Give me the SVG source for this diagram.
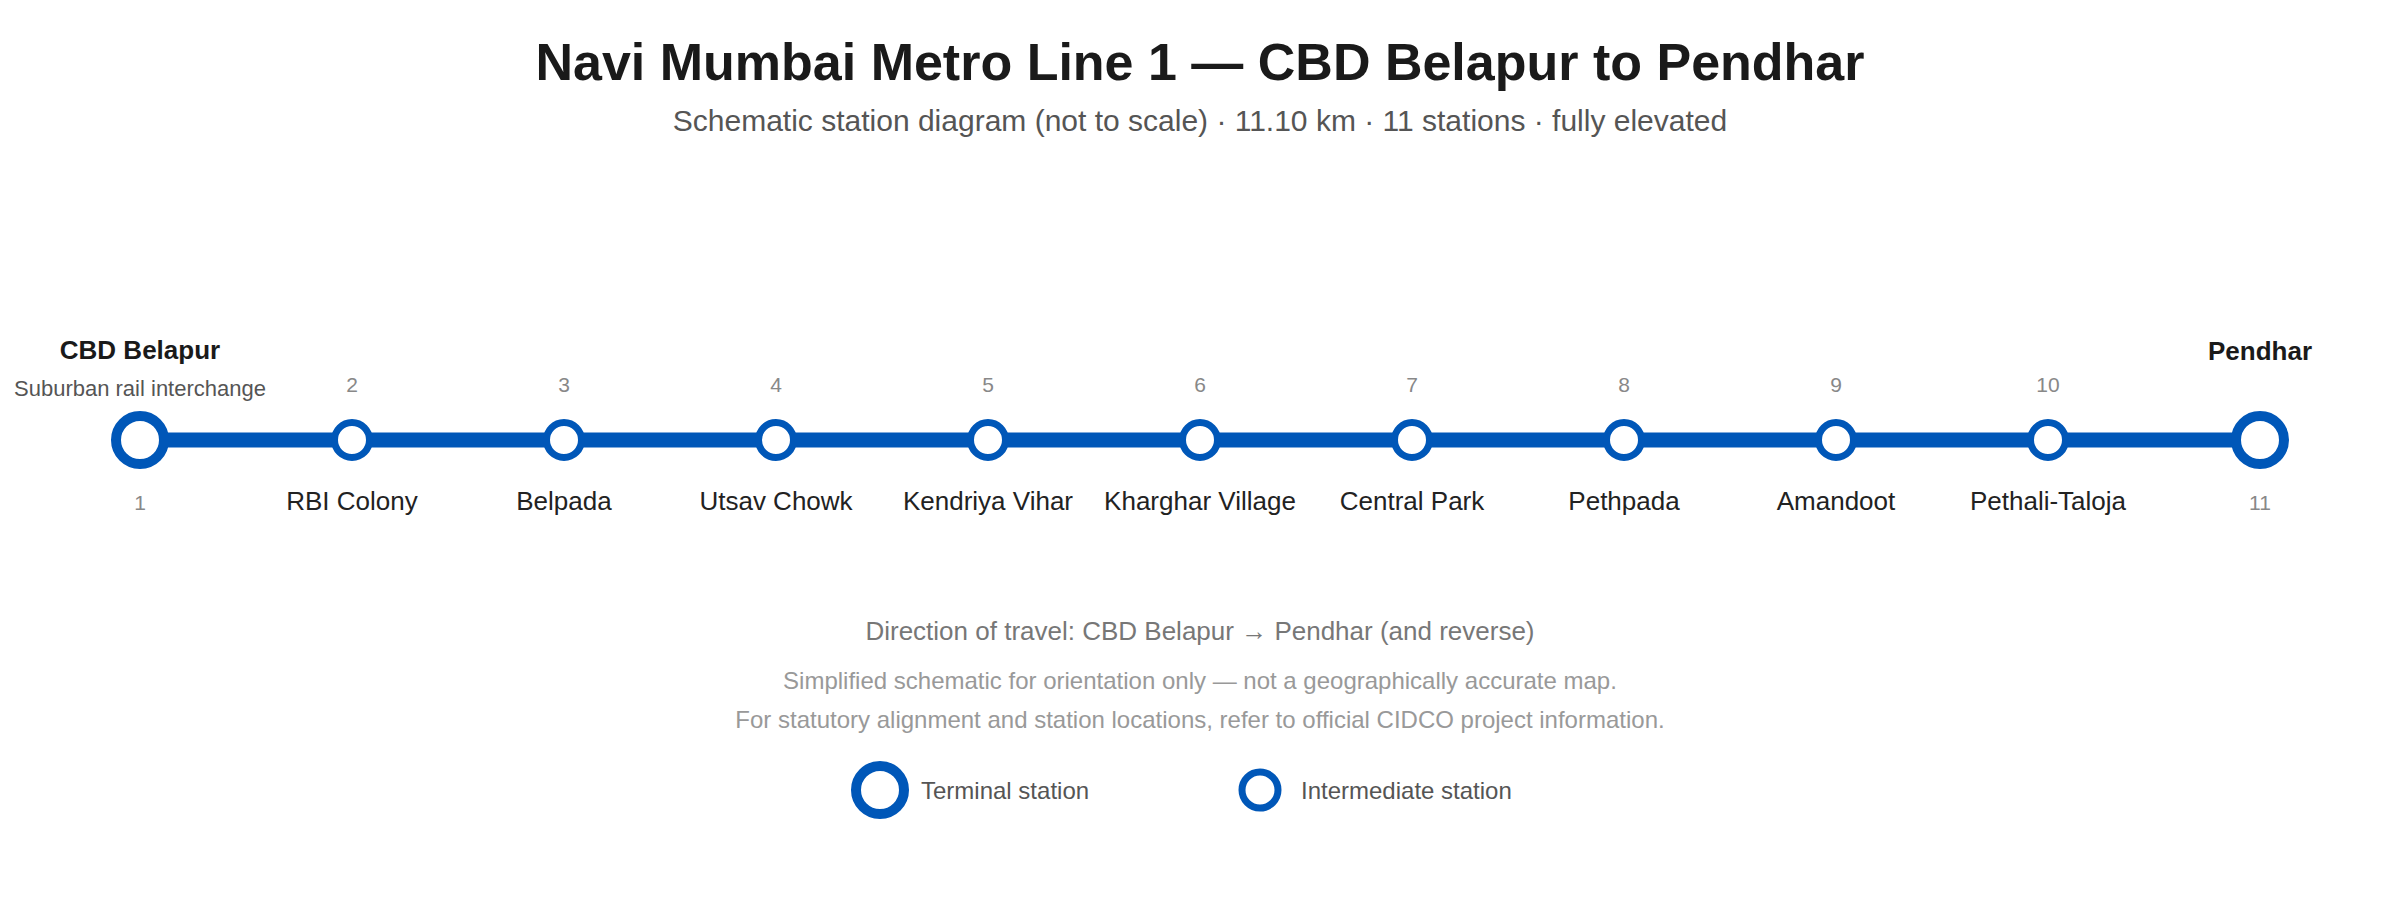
<svg xmlns="http://www.w3.org/2000/svg" width="2400" height="900" viewBox="0 0 2400 900">
<style>
text{font-family:"Liberation Sans",Arial,sans-serif;text-anchor:middle}
.title{font-size:52px;font-weight:bold;fill:#1a1a1a}
.sub{font-size:30px;fill:#555}
.term{fill:#fff;stroke:#0057b8;stroke-width:10}
.mid{fill:#fff;stroke:#0057b8;stroke-width:7}
.tname{font-size:26px;font-weight:bold;fill:#1a1a1a}
.tnote{font-size:22px;fill:#555}
.name{font-size:26px;fill:#222}
.num{font-size:21px;fill:#888}
.dir{font-size:26px;fill:#777}
.note{font-size:24px;fill:#999}
.leg{font-size:24px;fill:#555;text-anchor:start}
</style>
<rect width="2400" height="900" fill="#fff"/>
<text class="title" x="1200" y="80">Navi Mumbai Metro Line 1 — CBD Belapur to Pendhar</text>
<text class="sub" x="1200" y="131">Schematic station diagram (not to scale) · 11.10 km · 11 stations · fully elevated</text>
<g id="connectors">
<line x1="140" y1="440" x2="2260" y2="440" stroke="#0057b8" stroke-width="15"/>
</g>
<g id="s1"><circle class="term" cx="140" cy="440" r="24"/><text class="tname" x="140" y="359">CBD Belapur</text><text class="tnote" x="140" y="396">Suburban rail interchange</text><text class="num" x="140" y="510">1</text></g>
<g id="s2"><circle class="mid" cx="352" cy="440" r="17.5"/><text class="num" x="352" y="392">2</text><text class="name" x="352" y="510">RBI Colony</text></g>
<g id="s3"><circle class="mid" cx="564" cy="440" r="17.5"/><text class="num" x="564" y="392">3</text><text class="name" x="564" y="510">Belpada</text></g>
<g id="s4"><circle class="mid" cx="776" cy="440" r="17.5"/><text class="num" x="776" y="392">4</text><text class="name" x="776" y="510">Utsav Chowk</text></g>
<g id="s5"><circle class="mid" cx="988" cy="440" r="17.5"/><text class="num" x="988" y="392">5</text><text class="name" x="988" y="510">Kendriya Vihar</text></g>
<g id="s6"><circle class="mid" cx="1200" cy="440" r="17.5"/><text class="num" x="1200" y="392">6</text><text class="name" x="1200" y="510">Kharghar Village</text></g>
<g id="s7"><circle class="mid" cx="1412" cy="440" r="17.5"/><text class="num" x="1412" y="392">7</text><text class="name" x="1412" y="510">Central Park</text></g>
<g id="s8"><circle class="mid" cx="1624" cy="440" r="17.5"/><text class="num" x="1624" y="392">8</text><text class="name" x="1624" y="510">Pethpada</text></g>
<g id="s9"><circle class="mid" cx="1836" cy="440" r="17.5"/><text class="num" x="1836" y="392">9</text><text class="name" x="1836" y="510">Amandoot</text></g>
<g id="s10"><circle class="mid" cx="2048" cy="440" r="17.5"/><text class="num" x="2048" y="392">10</text><text class="name" x="2048" y="510">Pethali-Taloja</text></g>
<g id="s11"><circle class="term" cx="2260" cy="440" r="24"/><text class="tname" x="2260" y="360">Pendhar</text><text class="num" x="2260" y="510">11</text></g>
<g id="notes">
<text class="dir" x="1200" y="640">Direction of travel: CBD Belapur → Pendhar (and reverse)</text>
<text class="note" x="1200" y="689">Simplified schematic for orientation only — not a geographically accurate map.</text>
<text class="note" x="1200" y="728">For statutory alignment and station locations, refer to official CIDCO project information.</text>
</g>
<g id="legend">
<circle class="term" cx="880" cy="790" r="24"/><text class="leg" x="921" y="799">Terminal station</text>
<circle class="mid" cx="1260" cy="790" r="18"/><text class="leg" x="1301" y="799">Intermediate station</text>
</g>
</svg>
